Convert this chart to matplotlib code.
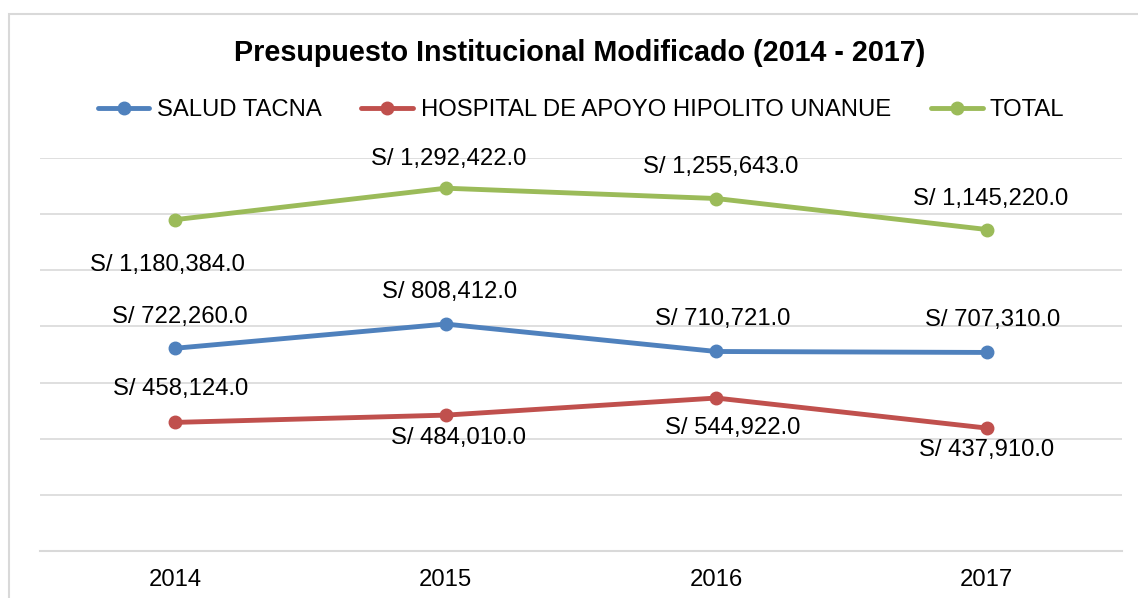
import matplotlib.pyplot as plt
from matplotlib.patches import Rectangle

plt.rcParams['font.family'] = ['Liberation Sans', 'DejaVu Sans']

years = ['2014', '2015', '2016', '2017']
salud_tacna = [722260.0, 808412.0, 710721.0, 707310.0]
hospital = [458124.0, 484010.0, 544922.0, 437910.0]
total = [1180384.0, 1292422.0, 1255643.0, 1145220.0]
series_names = ['SALUD TACNA', 'HOSPITAL DE APOYO HIPOLITO UNANUE', 'TOTAL']

colors = ['#4F81BD', '#C0504D', '#9BBB59']
# label offsets in pixels (dx, dy), positive dy = up
offsets = [
    [(5, 31), (4, 32), (6, 32), (6, 32)],
    [(5, 33), (13, -23), (16, -30), (0, -22)],
    [(-8, -45), (3, 29), (4, 32), (4, 31)],
]
fs = 17.2

fig = plt.figure(figsize=(11.38, 5.98), dpi=100)
fig.patches.append(Rectangle((9 / 1138, -0.1), 1.2, 1 - 14 / 598 + 0.1,
                             transform=fig.transFigure, fill=False,
                             edgecolor='#D9D9D9', linewidth=1.5))

ax = fig.add_axes([40 / 1138, 1 - 551 / 598, (1122 - 40) / 1138, (551 - 158) / 598])
x = range(len(years))

for vals, name, col, offs in zip([salud_tacna, hospital, total], series_names, colors, offsets):
    ax.plot(x, vals, color=col, linewidth=3.5, marker='o', markersize=9,
            solid_capstyle='round', label=name)
    for i, v in enumerate(vals):
        ax.annotate('S/ {:,.1f}'.format(v), (i, v), xytext=offs[i],
                    textcoords='offset pixels', ha='center', va='center',
                    fontsize=fs, color='black')

ax.set_xlim(-0.5, 3.5)
ax.set_ylim(0, 1400000)
ax.set_yticks(range(0, 1400001, 200000))
ax.set_yticklabels([])
ax.set_xticks(list(x))
ax.set_xticklabels(years, fontsize=fs)
ax.tick_params(axis='both', length=0)
ax.tick_params(axis='x', pad=13)
ax.grid(axis='y', color='#D9D9D9', linewidth=1.2)
ax.set_axisbelow(True)
for s in ['top', 'right', 'left']:
    ax.spines[s].set_visible(False)
ax.spines['bottom'].set_color('#D9D9D9')
ax.spines['bottom'].set_linewidth(1.5)

fig.text(580 / 1138, 1 - 53 / 598, 'Presupuesto Institucional Modificado (2014 - 2017)',
         ha='center', va='center', fontsize=20.7, fontweight='bold')

fig.legend(loc='center', bbox_to_anchor=(581 / 1138, 1 - 110 / 598), ncol=3, frameon=False,
           fontsize=fs, handlelength=2.17, handletextpad=0.3, columnspacing=1.68)

fig.savefig('out.png', dpi=100)
